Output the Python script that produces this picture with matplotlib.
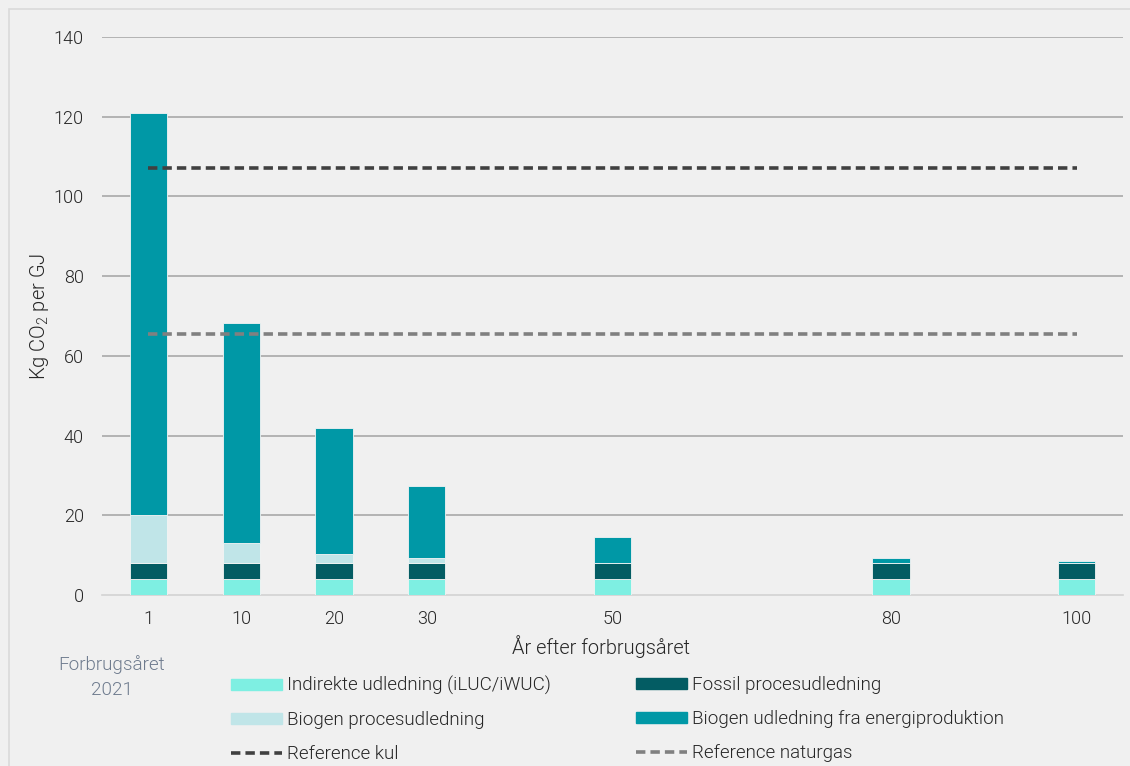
import numpy as np
import matplotlib as mpl
mpl.use('Agg')
import matplotlib.pyplot as plt
from matplotlib.patches import Patch, Rectangle
from matplotlib.lines import Line2D

plt.rcParams['font.family'] = ['Roboto', 'DejaVu Sans']
plt.rcParams['font.weight'] = 300
plt.rcParams['axes.labelweight'] = 300
plt.rcParams['mathtext.fontset'] = 'custom'
plt.rcParams['mathtext.rm'] = 'Roboto:weight=300'

# slots 1, 10, 20, ... 100 -> only some have data
slots = [0, 1, 2, 3, 5, 8, 10]
years = ['1', '10', '20', '30', '50', '80', '100']
indirekte = [4.0, 4.0, 4.0, 4.0, 4.0, 4.0, 4.0]
fossil = [4.0, 4.0, 4.0, 4.0, 4.0, 4.0, 4.0]
biogen_proc = [12.1, 5.0, 2.4, 1.2, 0.0, 0.0, 0.0]
biogen_energi = [100.8, 55.3, 31.6, 18.2, 6.6, 1.4, 0.5]
ref_kul = 107.1
ref_naturgas = 65.4

c_ind = '#7EEFE2'
c_fos = '#035C63'
c_bproc = '#C0E5E8'
c_benergi = '#0098A6'
c_kul = '#404040'
c_gas = '#808080'
bg = '#F0F0F0'
txt = '#262626'

fig = plt.figure(figsize=(11.3, 7.66), dpi=100, facecolor=bg)
fig.patches.append(Rectangle((9 / 1130, -0.1), 1.2, 1 - 9 / 766 + 0.1, transform=fig.transFigure,
                             facecolor='none', edgecolor='#DADADA', lw=1.2))
ax = fig.add_axes([102 / 1130, 1 - 595 / 766, 1021 / 1130, 558 / 766])
ax.set_facecolor(bg)

w = 0.4
bottom = np.zeros(len(slots))
for vals, col in [(indirekte, c_ind), (fossil, c_fos), (biogen_proc, c_bproc), (biogen_energi, c_benergi)]:
    ax.bar(slots, vals, w, bottom=bottom, color=col, edgecolor='#F4F4F4', linewidth=0.6, zorder=3)
    bottom += np.array(vals)

ax.plot([0, 10], [ref_kul, ref_kul], color=c_kul, ls=(0, (2.6, 1.4)), lw=2.6, zorder=4)
ax.plot([0, 10], [ref_naturgas, ref_naturgas], color=c_gas, ls=(0, (2.6, 1.4)), lw=2.6, zorder=4)

ax.set_xlim(-0.5, 10.5)
ax.set_ylim(0, 140)
ax.set_yticks(range(0, 141, 20))
ax.set_xticks(slots)
ax.set_xticklabels(years)
ax.tick_params(length=0, labelsize=13, colors=txt)
ax.tick_params(axis='y', pad=13)
ax.tick_params(axis='x', pad=11)
ax.yaxis.grid(True, color='#A8A8A8', lw=1.2, zorder=0)
for s in ['top', 'right', 'left']:
    ax.spines[s].set_visible(False)
ax.spines['bottom'].set_color('#D2D2D2')
ax.spines['bottom'].set_linewidth(1.2)
ax.get_ygridlines()[0].set_visible(False)

ax.set_ylabel('Kg CO$_2$ per GJ', fontsize=14.5, color=txt, labelpad=2)
ax.set_xlabel('År efter forbrugsåret', fontsize=14.4, color=txt)
ax.xaxis.set_label_coords((601 - 102) / 1021, -0.072)

fig.text(112 / 1130, 1 - 677 / 766, 'Forbrugsåret\n2021', ha='center', va='center',
         fontsize=13.6, color='#6E7B8E', linespacing=1.45)

h1 = [Patch(color=c_ind), Patch(color=c_bproc), Line2D([], [], color=c_kul, ls=(0, (2.6, 1.4)), lw=2.6)]
l1 = ['Indirekte udledning (iLUC/iWUC)', 'Biogen procesudledning', 'Reference kul']
h2 = [Patch(color=c_fos), Patch(color=c_benergi), Line2D([], [], color=c_gas, ls=(0, (2.6, 1.4)), lw=2.6)]
l2 = ['Fossil procesudledning', 'Biogen udledning fra energiproduktion', 'Reference naturgas']
kw = dict(frameon=False, fontsize=13.5, handlelength=2.7, handleheight=0.5, handletextpad=0.3,
          labelspacing=0.86, loc='upper left', borderaxespad=0, borderpad=0)
leg1 = fig.legend(h1, l1, bbox_to_anchor=(231 / 1130, 1 - 676 / 766), **kw)
leg2 = fig.legend(h2, l2, bbox_to_anchor=(636 / 1130, 1 - 676 / 766), **kw)
for leg in (leg1, leg2):
    for t in leg.get_texts():
        t.set_color(txt)

plt.savefig('out.png', dpi=100, facecolor=bg)
